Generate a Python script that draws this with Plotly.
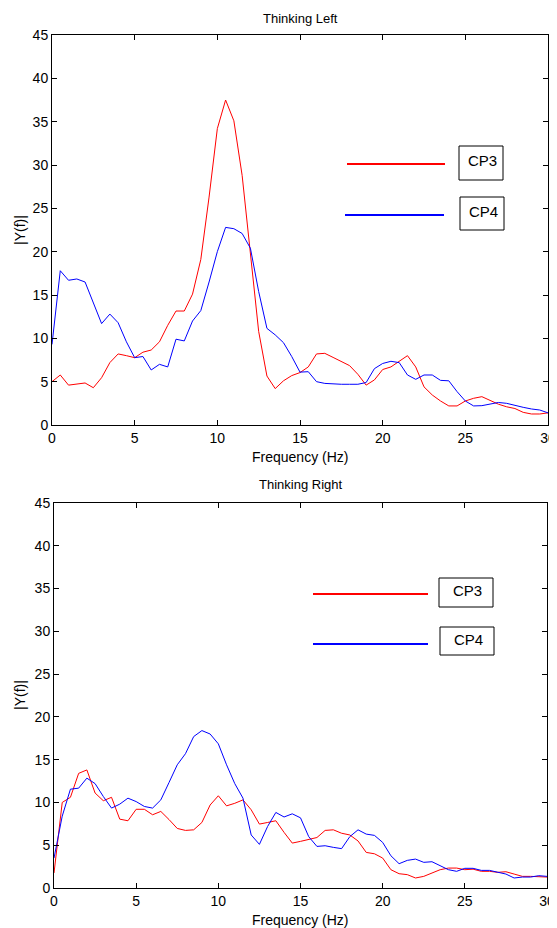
import plotly.graph_objects as go

# page body has an 8px margin, so the figure is laid out in page pixels shifted by OFF
OFF = 8
W, H = 549, 920

freq = [i * 0.5 for i in range(61)]

left_cp3 = [5.0, 5.77, 4.6, 4.7, 4.85, 4.3, 5.46, 7.2, 8.2, 8.0, 7.77, 8.4, 8.65, 9.6, 11.5, 13.15,
            13.15, 15.1, 19.1, 26.3, 34.2, 37.5, 35.1, 28.8, 19.8, 10.8, 5.65, 4.2, 5.1, 5.7, 6.05,
            6.7, 8.2, 8.27, 7.8, 7.35, 6.85, 5.85, 4.6, 5.2, 6.4, 6.7, 7.3, 8.0, 6.7, 4.4,
            3.46, 2.77, 2.2, 2.2, 2.77, 3.08, 3.27, 2.8, 2.4, 2.1, 1.9, 1.46, 1.27, 1.27, 1.4]
left_cp4 = [9.3, 17.8, 16.7, 16.85, 16.5, 14.1, 11.7, 12.8, 11.8, 9.6, 7.77, 7.9, 6.35, 7.0, 6.7, 9.9,
            9.7, 12.0, 13.2, 16.5, 20.0, 22.8, 22.65, 22.1, 20.4, 15.4, 11.15, 10.4, 9.5, 7.9, 6.1,
            6.15, 5.0, 4.8, 4.73, 4.7, 4.7, 4.7, 4.9, 6.5, 7.1, 7.35, 7.2, 5.77, 5.27, 5.77,
            5.77, 5.15, 5.1, 3.85, 2.77, 2.2, 2.23, 2.38, 2.6, 2.5, 2.23, 2.04, 1.85, 1.73, 1.4]

right_cp3 = [1.75, 10.0, 10.6, 13.4, 13.8, 11.1, 10.2, 10.6, 8.05, 7.86, 9.2, 9.2, 8.56, 8.95, 8.0, 6.96,
             6.73, 6.8, 7.66, 9.7, 10.78, 9.6, 9.9, 10.3, 9.14, 7.47, 7.66, 7.86, 6.5, 5.25, 5.45,
             5.64, 5.9, 6.73, 6.8, 6.4, 6.2, 5.5, 4.16, 4.0, 3.5, 2.14, 1.67, 1.56, 1.17, 1.36,
             1.75, 2.14, 2.33, 2.33, 2.14, 2.2, 1.95, 1.95, 1.83, 1.9, 1.63, 1.36, 1.36, 1.28, 1.28]
right_cp4 = [3.5, 8.4, 11.55, 11.67, 12.84, 12.2, 10.7, 9.34, 9.8, 10.5, 10.1, 9.53, 9.34, 10.3, 12.33, 14.4,
             15.7, 17.7, 18.4, 18.0, 16.85, 14.4, 12.2, 10.5, 6.2, 5.1, 7.2, 8.83, 8.3, 8.67, 8.2,
             6.0, 4.86, 4.94, 4.75, 4.6, 6.0, 6.8, 6.3, 6.15, 5.33, 3.77, 2.84, 3.23, 3.38, 3.0,
             3.07, 2.6, 2.14, 1.95, 2.3, 2.3, 2.06, 2.06, 1.83, 1.63, 1.17, 1.28, 1.28, 1.44, 1.36]

x_ticks = [0, 5, 10, 15, 20, 25, 30]
y_ticks = [0, 5, 10, 15, 20, 25, 30, 35, 40, 45]
series_names = ["CP3", "CP4"]
series_colors = ["#FF0000", "#0000FF"]
titles = ["Thinking Left", "Thinking Right"]
x_title = "Frequency (Hz)"
y_title = "|Y(f)|"


def px(x):
    return (x - OFF) / W


def py(y):
    return 1 - (y - OFF) / H


FONT = "Liberation Sans, Arial, sans-serif"

fig = go.Figure()
fig.add_trace(go.Scatter(x=freq, y=left_cp3, mode="lines", line=dict(color=series_colors[0], width=1),
                         xaxis="x", yaxis="y", showlegend=False))
fig.add_trace(go.Scatter(x=freq, y=left_cp4, mode="lines", line=dict(color=series_colors[1], width=1),
                         xaxis="x", yaxis="y", showlegend=False))
fig.add_trace(go.Scatter(x=freq, y=right_cp3, mode="lines", line=dict(color=series_colors[0], width=1),
                         xaxis="x2", yaxis="y2", showlegend=False))
fig.add_trace(go.Scatter(x=freq, y=right_cp4, mode="lines", line=dict(color=series_colors[1], width=1),
                         xaxis="x2", yaxis="y2", showlegend=False))

axis_common = dict(showline=True, linecolor="black", linewidth=1, mirror="ticks", ticks="inside",
                   ticklen=5, tickcolor="black", showgrid=False, zeroline=False, automargin=False,
                   tickfont=dict(family=FONT, size=14, color="black"))

fig.update_layout(
    width=W, height=H, margin=dict(l=0, r=0, t=0, b=0),
    paper_bgcolor="white", plot_bgcolor="white",
    xaxis=dict(domain=[px(52), px(548)], range=[0, 30], tickvals=x_ticks, anchor="y", **axis_common),
    yaxis=dict(domain=[py(425), py(35)], range=[0, 45], tickvals=y_ticks, anchor="x", **axis_common),
    xaxis2=dict(domain=[px(54), px(547)], range=[0, 30], tickvals=x_ticks, anchor="y2", **axis_common),
    yaxis2=dict(domain=[py(888), py(503)], range=[0, 45], tickvals=y_ticks, anchor="x2", **axis_common),
)

# titles and axis titles (positions in page pixels): text, x, y, angle, size
text_items = [
    (titles[0], 300, 18, 0, 13), (titles[1], 300, 485, 0, 13),
    (x_title, 300, 457, 0, 14), (x_title, 300, 920, 0, 14),
    (y_title, 20, 230, -90, 14), (y_title, 20, 695, -90, 14),
]
for txt, tx, ty, ang, sz in text_items:
    fig.add_annotation(text=txt, x=px(tx), y=py(ty), xref="paper", yref="paper", showarrow=False,
                       xanchor="center", yanchor="middle", textangle=ang,
                       font=dict(family=FONT, size=sz, color="black"))

# MATLAB-style legend pieces: (line x0, x1, y, box x0, x1, y0, y1)
legend_top = [(347, 445, 164, 459, 503, 146, 180), (345, 444, 215, 460, 504, 197, 230)]
legend_bot = [(313, 428, 594, 439, 493, 578, 607), (313, 428, 644, 440, 494, 627, 655)]
for group in (legend_top, legend_bot):
    for i, (lx0, lx1, ly, bx0, bx1, by0, by1) in enumerate(group):
        fig.add_shape(type="line", xref="paper", yref="paper", x0=px(lx0), x1=px(lx1), y0=py(ly), y1=py(ly),
                      line=dict(color=series_colors[i], width=2))
        fig.add_shape(type="rect", xref="paper", yref="paper", x0=px(bx0), x1=px(bx1), y0=py(by0), y1=py(by1),
                      line=dict(color="black", width=1), fillcolor="rgba(0,0,0,0)")
        fig.add_annotation(text=series_names[i], x=px((bx0 + bx1) / 2 + 1), y=py((by0 + by1) / 2 - 2),
                           xref="paper", yref="paper", showarrow=False, xanchor="center", yanchor="middle",
                           font=dict(family=FONT, size=15, color="black"))

fig.write_html("out.html")
